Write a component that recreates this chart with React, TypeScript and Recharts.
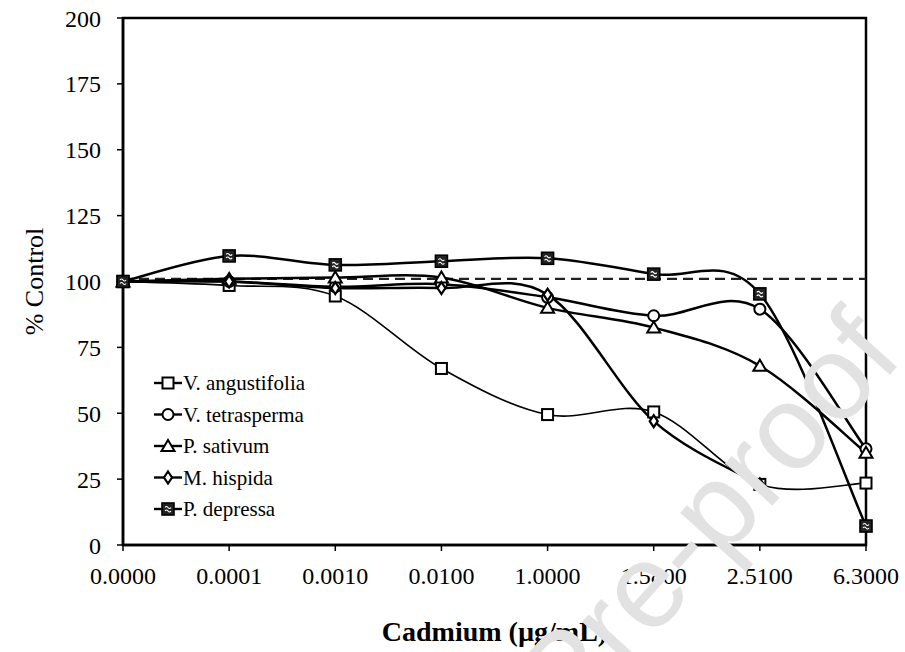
import React from "react";
import {
  LineChart,
  Line,
  XAxis,
  YAxis,
  ReferenceLine,
  ReferenceArea,
} from "recharts";

const doses = ["0.0000", "0.0001", "0.0010", "0.0100", "1.0000", "1.5800", "2.5100", "6.3000"];
const angustifolia = [100, 98.5, 94.5, 67, 49.5, 50.5, 23, 23.5];
const tetrasperma = [100, 100, 98, 99, 94, 87, 89.5, 36.5];
const sativum = [100, 101, 101.5, 101.5, 90, 82.5, 68, 35];
const hispida = [100, 100, 97.5, 97.5, 95, 47, 23, null];
const depressa = [100, 109.7, 106.3, 107.7, 108.8, 102.8, 95.3, 7.2];
const yTicks = [0, 25, 50, 75, 100, 125, 150, 175, 200];
const controlLevel = 101;

const seriesNames = ["V. angustifolia", "V. tetrasperma", "P. sativum", "M. hispida", "P. depressa"];
const seriesKeys = ["ang", "tet", "sat", "his", "dep"];
const seriesValues = [angustifolia, tetrasperma, sativum, hispida, depressa];
const markerKinds = ["square", "circle", "triangle", "diamond", "hatched"];

const data = doses.map((d, i) => {
  const row: any = { dose: d };
  seriesKeys.forEach((k, s) => (row[k] = seriesValues[s][i]));
  return row;
});

const serif = "'Liberation Serif', 'Times New Roman', serif";

// smoothed line like the spreadsheet one (catmull-rom style)
const smoothCurve = (context: any) => {
  let pts: number[][] = [];
  return {
    areaStart() {},
    areaEnd() {},
    lineStart() {
      pts = [];
    },
    point(x: number, y: number) {
      pts.push([+x, +y]);
    },
    lineEnd() {
      if (!pts.length) return;
      context.moveTo(pts[0][0], pts[0][1]);
      for (let i = 0; i < pts.length - 1; i++) {
        const p0 = pts[Math.max(i - 1, 0)];
        const p1 = pts[i];
        const p2 = pts[i + 1];
        const p3 = pts[Math.min(i + 2, pts.length - 1)];
        context.bezierCurveTo(
          p1[0] + (p2[0] - p0[0]) / 6,
          p1[1] + (p2[1] - p0[1]) / 6,
          p2[0] - (p3[0] - p1[0]) / 6,
          p2[1] - (p3[1] - p1[1]) / 6,
          p2[0],
          p2[1]
        );
      }
    },
  };
};

const Marker = ({ kind, cx, cy }: { kind: string; cx: number; cy: number }) => {
  const sw = 2;
  if (kind === "square")
    return <rect x={cx - 5.5} y={cy - 5.5} width={11} height={11} fill="#fff" stroke="#000" strokeWidth={sw} />;
  if (kind === "circle") return <circle cx={cx} cy={cy} r={5.5} fill="#fff" stroke="#000" strokeWidth={sw} />;
  if (kind === "triangle")
    return (
      <path
        d={`M${cx},${cy - 6} L${cx + 6.5},${cy + 5} L${cx - 6.5},${cy + 5} Z`}
        fill="#fff"
        stroke="#000"
        strokeWidth={sw}
      />
    );
  if (kind === "diamond")
    return (
      <path
        d={`M${cx},${cy - 6} L${cx + 4},${cy} L${cx},${cy + 6} L${cx - 4},${cy} Z`}
        fill="#fff"
        stroke="#000"
        strokeWidth={2.2}
      />
    );
  return (
    <g>
      <rect x={cx - 6} y={cy - 6} width={12} height={12} fill="#222" stroke="#000" strokeWidth={1.6} />
      <path
        d={`M${cx - 3},${cy - 1.5} q1.5,-2 3,0 t3,0 M${cx - 3},${cy + 2} q1.5,-2 3,0 t3,0`}
        fill="none"
        stroke="#fff"
        strokeWidth={1.1}
      />
    </g>
  );
};

const makeDot = (kind: string) => (p: any) => {
  if (p.cx == null || p.cy == null || p.value == null) return <g key={p.index} />;
  return (
    <g key={p.index}>
      <Marker kind={kind} cx={p.cx} cy={p.cy} />
    </g>
  );
};

const LegendBox = () => (
  <svg width={220} height={160} style={{ position: "absolute", left: 150, top: 369 }}>
    {seriesNames.map((name, i) => {
      const y = 14 + i * 31.5;
      return (
        <g key={name}>
          <line x1={4} x2={32} y1={y} y2={y} stroke="#000" strokeWidth={2.4} />
          <Marker kind={markerKinds[i]} cx={18} cy={y} />
          <text x={33} y={y + 7} style={{ fontFamily: serif, fontSize: 21 }} fill="#000">
            {name}
          </text>
        </g>
      );
    })}
  </svg>
);

const Watermark = () => (
  <svg width={905} height={652} style={{ position: "absolute", left: 0, top: 0, pointerEvents: "none" }}>
    <text
      x={0}
      y={0}
      transform="translate(905 358) rotate(-48)"
      textAnchor="end"
      style={{ fontFamily: "'Liberation Sans', Arial, sans-serif", fontSize: 120 }}
      fill="#e2e2e2"
    >
      Journal Pre-proof
    </text>
  </svg>
);

export default function App() {
  return (
    <div style={{ position: "absolute", left: 0, top: 0, width: 905, height: 652 }}>
      <LineChart width={905} height={652} data={data} margin={{ top: 18, right: 39, left: 0, bottom: 0 }}>
        <XAxis
          dataKey="dose"
          height={107}
          tickLine={{ stroke: "#000", strokeWidth: 1.5 }}
          axisLine={{ stroke: "#000", strokeWidth: 2.5 }}
          tickSize={6}
          tickMargin={16}
          tick={{ fill: "#000", fontFamily: serif, fontSize: 24 }}
          interval={0}
          label={{
            value: "Cadmium (µg/mL)",
            position: "center",
            dy: 33,
            fill: "#000",
            fontFamily: serif,
            fontSize: 28,
            fontWeight: "bold",
          }}
        />
        <YAxis
          width={123}
          domain={[0, 200]}
          ticks={yTicks}
          interval={0}
          tickLine={{ stroke: "#000", strokeWidth: 1.5 }}
          axisLine={{ stroke: "#000", strokeWidth: 2.5 }}
          tickSize={6}
          tickMargin={16}
          tick={{ fill: "#000", fontFamily: serif, fontSize: 24 }}
          label={{
            value: "% Control",
            angle: -90,
            position: "center",
            dx: -28,
            fill: "#000",
            fontFamily: serif,
            fontSize: 26,
          }}
        />
        <ReferenceArea
          x1={doses[0]}
          x2={doses[doses.length - 1]}
          y1={0}
          y2={200}
          fill="none"
          stroke="#000"
          strokeWidth={2.5}
          ifOverflow="visible"
        />
        <ReferenceLine y={controlLevel} stroke="#222" strokeWidth={2.2} strokeDasharray="10 6" />
        {seriesKeys.map((k, i) => (
          <Line
            key={k}
            dataKey={k}
            name={seriesNames[i]}
            type={smoothCurve as any}
            stroke="#000"
            strokeWidth={k === "ang" ? 1.6 : 2.5}
            dot={makeDot(markerKinds[i])}
            activeDot={false}
            isAnimationActive={false}
          />
        ))}
      </LineChart>
      <LegendBox />
      <Watermark />
    </div>
  );
}
